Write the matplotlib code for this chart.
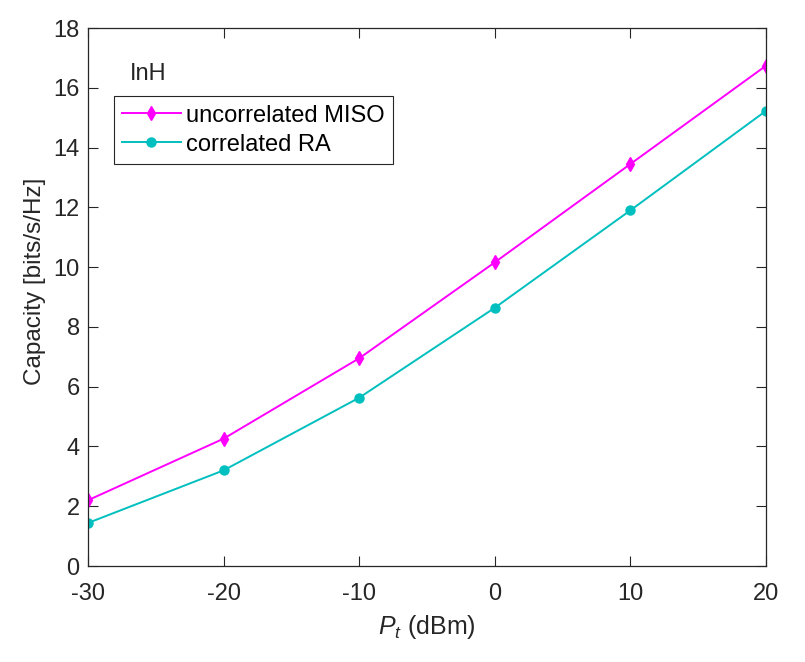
import matplotlib
matplotlib.use("Agg")
import matplotlib.pyplot as plt

pt_dbm = [-30, -20, -10, 0, 10, 20]
uncorrelated_miso = [2.2, 4.26, 6.95, 10.16, 13.45, 16.74]
correlated_ra = [1.44, 3.2, 5.63, 8.64, 11.9, 15.23]
x_ticks = [-30, -20, -10, 0, 10, 20]
y_ticks = [0, 2, 4, 6, 8, 10, 12, 14, 16, 18]

plt.rcParams['font.family'] = ['Liberation Sans', 'DejaVu Sans']
plt.rcParams['mathtext.fontset'] = 'custom'
plt.rcParams['mathtext.it'] = 'Liberation Sans:italic'
plt.rcParams['mathtext.rm'] = 'Liberation Sans'

fig = plt.figure(figsize=(8.05, 6.62), dpi=100)
ax = fig.add_axes([0.1093, 0.145, 0.8423, 0.8127])

axc = '#262626'
ax.plot(pt_dbm, uncorrelated_miso, color='#FF00FF', lw=1.4, marker='d', ms=7,
        label='uncorrelated MISO')
ax.plot(pt_dbm, correlated_ra, color='#00BFBF', lw=1.4, marker='o', ms=6.5,
        label='correlated RA')

ax.set_xlim(-30, 20)
ax.set_ylim(0, 18)
ax.set_xticks(x_ticks)
ax.set_yticks(y_ticks)
ax.set_xticklabels([str(v) for v in x_ticks])
ax.set_yticklabels([str(v) for v in y_ticks])
ax.tick_params(direction='in', length=7, width=0.8, colors=axc, labelsize=17,
               top=True, right=True)
ax.tick_params(axis='x', pad=12)
ax.tick_params(axis='y', pad=6)
for s in ax.spines.values():
    s.set_color(axc)
    s.set_linewidth(0.9)

ax.set_xlabel(r'$P_{t}$ (dBm)', fontsize=18, color=axc, labelpad=6)
ax.set_ylabel('Capacity [bits/s/Hz]', fontsize=17.5, color=axc)
ax.yaxis.set_label_coords(-0.062, 0.53)

ax.text(0.062, 0.915, 'InH', transform=ax.transAxes, fontsize=17, color=axc,
        va='center', ha='left')

leg = ax.legend(loc='upper left', bbox_to_anchor=(0.0378, 0.873), fontsize=17,
                frameon=True, fancybox=False, edgecolor=axc, framealpha=1,
                handlelength=2.5, handletextpad=0.2, borderpad=0.35,
                labelspacing=0.3, borderaxespad=0)
leg.get_frame().set_linewidth(0.8)
for t in leg.get_texts():
    t.set_color('black')

fig.savefig('out.png', dpi=100)
